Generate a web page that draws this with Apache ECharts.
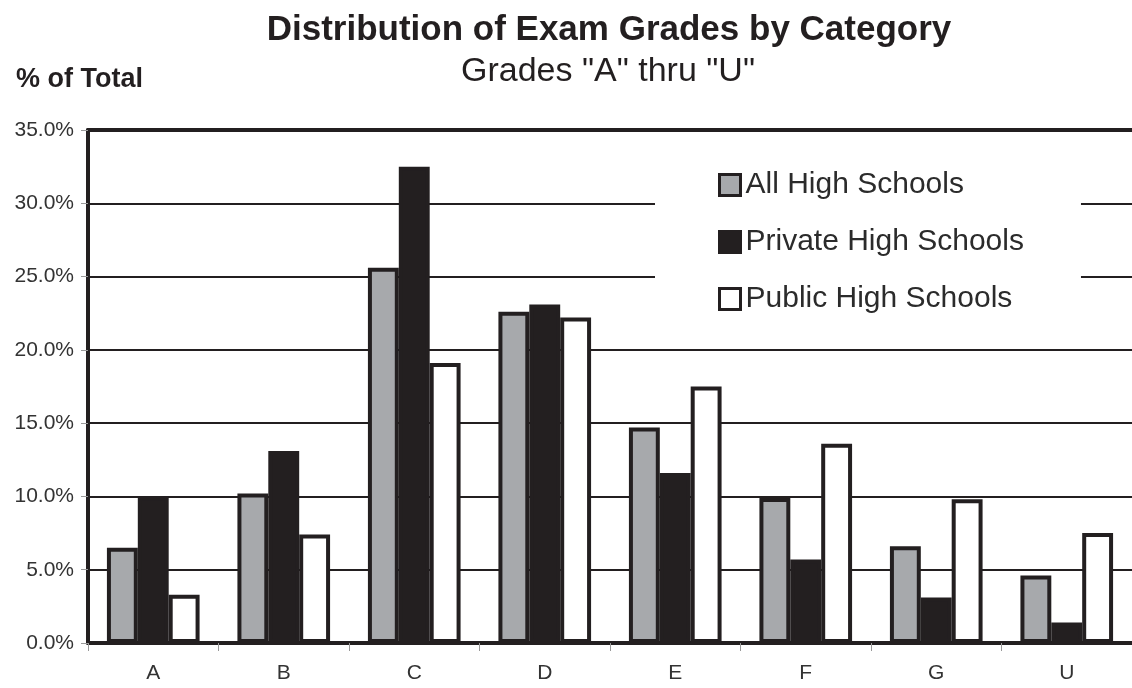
<!doctype html>
<html>
<head>
<meta charset="utf-8">
<title>Distribution of Exam Grades by Category</title>
<script src="https://cdn.jsdelivr.net/npm/echarts@6/dist/echarts.min.js"></script>
<style>
  html, body { margin: 0; padding: 0; background: #fff; }
  #chart { width: 1132px; height: 688px; }
</style>
</head>
<body>
<div id="chart"></div>
<script type="text/javascript">
// categories + values (% of total)
var grades = ['A', 'B', 'C', 'D', 'E', 'F', 'G', 'U'];
var allSchools     = [6.5, 10.2, 25.6, 22.6, 14.7, 9.9, 6.6, 4.6];
var privateSchools = [10.0, 13.1, 32.5, 23.1, 11.6, 5.7, 3.1, 1.4];
var publicSchools  = [3.3, 7.4, 19.1, 22.2, 17.5, 13.6, 9.8, 7.5];
var yTicks = [0, 5, 10, 15, 20, 25, 30, 35];

var ink = '#231f20';
var font = 'Liberation Sans, Arial, sans-serif';

function barSeries(name, data, fill) {
    return {
        name: name,
        type: 'bar',
        data: data,
        barGap: '0%',
        barCategoryGap: '29%',
        itemStyle: {
            color: fill,
            borderColor: ink,
            borderWidth: 4
        },
        emphasis: { disabled: true },
        animation: false
    };
}

var option = {
    backgroundColor: '#fff',
    textStyle: { fontFamily: font },
    title: [
        {
            text: 'Distribution of Exam Grades by Category',
            left: 604, top: 8, textAlign: 'center',
            textStyle: { fontSize: 35, fontWeight: 'bold', color: ink, fontFamily: font }
        },
        {
            text: 'Grades "A" thru "U"',
            left: 603, top: 50, textAlign: 'center',
            textStyle: { fontSize: 34, fontWeight: 'normal', color: ink, fontFamily: font }
        },
        {
            text: '% of Total',
            left: 11, top: 61,
            textStyle: { fontSize: 27, fontWeight: 'bold', color: ink, fontFamily: font }
        }
    ],
    legend: {
        orient: 'vertical',
        left: 655, top: 145,
        padding: [25, 57, 25, 63],
        backgroundColor: '#fff',
        icon: 'rect',
        itemWidth: 21, itemHeight: 21,
        itemGap: 27,
        itemStyle: { borderWidth: 3, borderColor: ink },
        textStyle: { fontSize: 30, color: '#2b2b2b', lineHeight: 21 },
        data: ['All High Schools', 'Private High Schools', 'Public High Schools'],
        selectedMode: false
    },
    grid: {
        left: 88, right: -3, top: 130, bottom: 45,
        show: false,
        containLabel: false
    },
    xAxis: [
        {
            type: 'category',
            data: grades,
            axisLine: { show: true, lineStyle: { color: ink, width: 4 } },
            axisTick: { show: true, length: 8, lineStyle: { color: '#999', width: 1 } },
            axisLabel: { fontSize: 21, color: '#333', margin: 20 }
        },
        {
            // thick frame line along the top of the plot
            type: 'category',
            position: 'top',
            data: grades,
            axisLine: { show: true, lineStyle: { color: ink, width: 4 } },
            axisTick: { show: false },
            axisLabel: { show: false }
        }
    ],
    yAxis: {
        type: 'value',
        min: yTicks[0],
        max: yTicks[yTicks.length - 1],
        interval: 5,
        axisLine: { show: true, lineStyle: { color: ink, width: 4 } },
        axisTick: { show: true, length: 7, lineStyle: { color: '#999', width: 1 } },
        axisLabel: {
            fontSize: 21, color: '#333', margin: 14,
            formatter: function (v) { return v.toFixed(1) + '%'; }
        },
        splitLine: { show: true, lineStyle: { color: ink, width: 2 } }
    },
    series: [
        barSeries('All High Schools', allSchools, '#a7a9ac'),
        barSeries('Private High Schools', privateSchools, ink),
        barSeries('Public High Schools', publicSchools, '#ffffff')
    ]
};

var myChart = echarts.init(document.getElementById('chart'), null, { renderer: 'canvas' });
myChart.setOption(option);
</script>
</body>
</html>
